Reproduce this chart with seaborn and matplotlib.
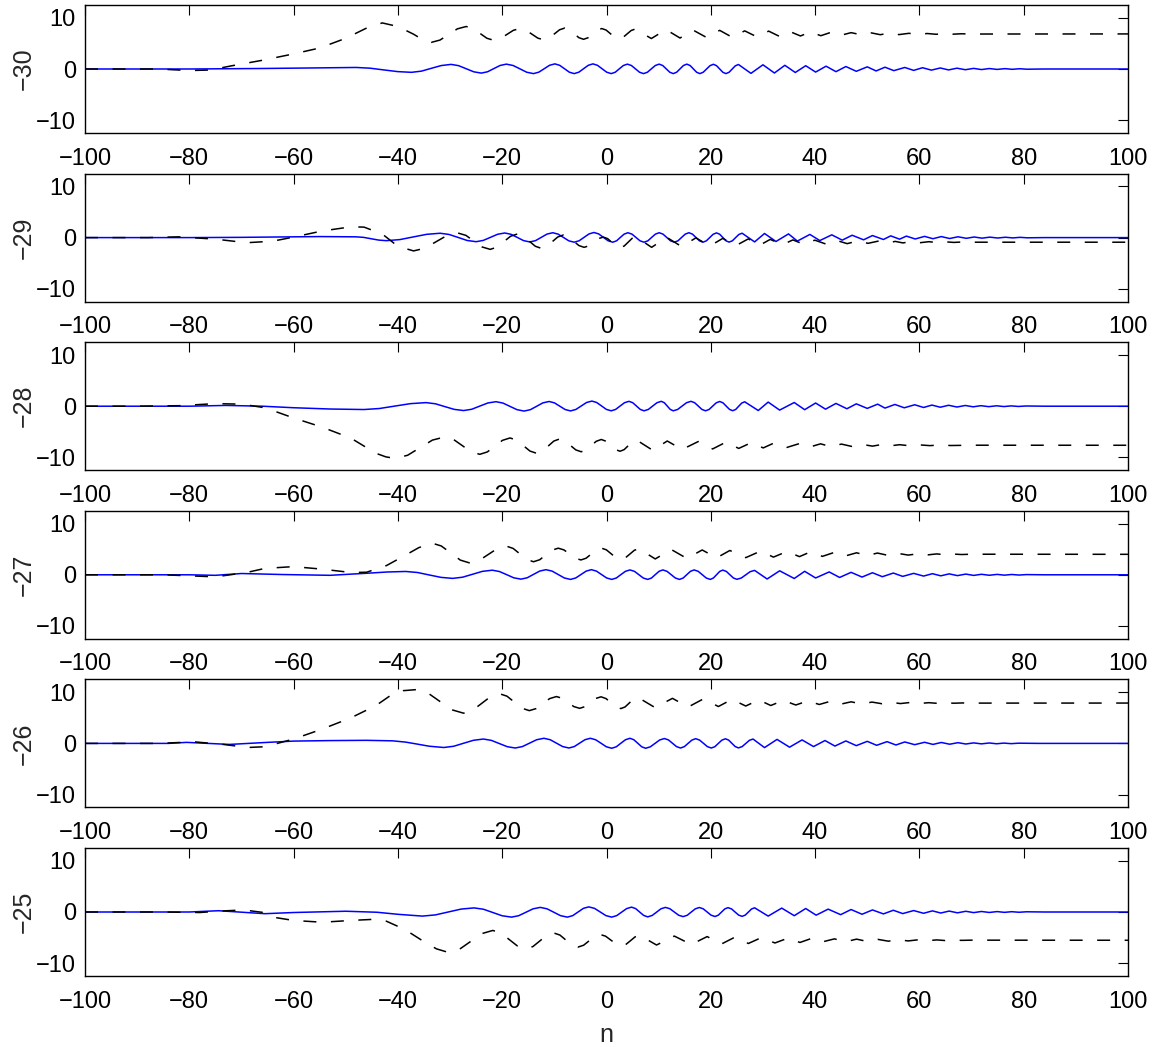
import matplotlib
matplotlib.use("Agg")
import matplotlib.pyplot as plt
from matplotlib import font_manager
import seaborn as sns

# ---- data: one row per parameter value; (n, value) samples of the solid (blue)
# ---- and dashed (black) traces
row_labels = [-30, -29, -28, -27, -26, -25]

solid_m30 = [
    (-100, 0), (-80, 0), (-66, 0.1), (-55, 0.22), (-48, 0.3), (-45.35, 0.16), (-42.7, -0.18),
    (-40.05, -0.51), (-37.4, -0.65), (-35.5, -0.42), (-33.6, 0.13), (-31.7, 0.67), (-29.8, 0.9),
    (-28.35, 0.65), (-26.9, 0.05), (-25.45, -0.55), (-24.0, -0.8), (-22.8, -0.54), (-21.6, 0.08),
    (-20.4, 0.69), (-19.2, 0.95), (-17.9, 0.68), (-16.6, 0.03), (-15.3, -0.63), (-14.0, -0.9),
    (-12.98, -0.62), (-11.95, 0.05), (-10.93, 0.72), (-9.9, 1.0), (-8.98, 0.72), (-8.05, 0.05),
    (-7.13, -0.62), (-6.2, -0.9), (-5.3, -0.62), (-4.4, 0.05), (-3.5, 0.72), (-2.6, 1.0),
    (-1.73, 0.72), (-0.85, 0.05), (0.03, -0.62), (0.9, -0.9), (1.68, -0.63), (2.45, 0.03),
    (3.23, 0.68), (4.0, 0.95), (4.78, 0.68), (5.55, 0.03), (6.33, -0.63), (7.1, -0.9),
    (7.85, -0.63), (8.6, 0.03), (9.35, 0.68), (10.1, 0.95), (10.78, 0.68), (11.45, 0.03),
    (12.13, -0.63), (12.8, -0.9), (13.45, -0.63), (14.1, 0.03), (14.75, 0.68), (15.4, 0.95),
    (16.03, 0.68), (16.65, 0.03), (17.28, -0.63), (17.9, -0.9), (18.55, -0.63), (19.2, 0.01),
    (19.85, 0.65), (20.5, 0.92), (21.1, 0.65), (21.7, 0.01), (22.3, -0.63), (22.9, -0.9),
    (23.5, -0.64), (24.1, -0.01), (24.7, 0.62), (25.3, 0.88), (27.7, -0.85), (30.0, 0.82),
    (32.2, -0.78), (34.2, 0.72), (36.2, -0.68), (38.2, 0.64), (40.1, -0.6), (42.1, 0.55),
    (44.0, -0.52), (45.9, 0.48), (47.9, -0.45), (50.0, 0.42), (51.7, -0.38), (53.4, 0.35),
    (55.1, -0.32), (57.2, 0.3), (58.9, -0.27), (60.6, 0.25), (62.3, -0.22), (64.0, 0.2),
    (65.6, -0.18), (67.2, 0.16), (68.8, -0.14), (70.4, 0.12), (71.9, -0.11), (73.4, 0.09),
    (74.9, -0.08), (76.4, 0.07), (77.8, -0.06), (79.2, 0.05), (80.6, -0.04), (84, 0), (100, 0),
]
dashed_m30 = [
    (-100, 0), (-86, 0), (-80, -0.3), (-76, -0.2), (-72, 0.6), (-66, 1.7), (-60, 2.95),
    (-55, 4.1), (-50, 6.0), (-46, 8.0), (-43, 9.0), (-40, 8.3), (-37, 6.8), (-35.3, 5.75),
    (-33.6, 5.2), (-31.93, 5.65), (-30.25, 6.75), (-28.58, 7.85), (-26.9, 8.3), (-25.58, 7.9),
    (-24.25, 6.95), (-22.93, 6.0), (-21.6, 5.6), (-20.35, 5.94), (-19.1, 6.75), (-17.85, 7.56),
    (-16.6, 7.9), (-15.45, 7.58), (-14.3, 6.8), (-13.15, 6.02), (-12.0, 5.7), (-11.0, 6.04),
    (-10.0, 6.85), (-9.0, 7.66), (-8.0, 8.0), (-7.1, 7.68), (-6.2, 6.9), (-5.3, 6.12),
    (-4.4, 5.8), (-3.53, 6.11), (-2.65, 6.85), (-1.78, 7.59), (-0.9, 7.9), (-0.08, 7.61),
    (0.75, 6.9), (1.58, 6.19), (2.4, 5.9), (3.18, 6.18), (3.95, 6.85), (4.73, 7.52), (5.5, 7.8),
    (8.6, 5.95), (11.4, 7.7), (14.1, 6.05), (16.6, 7.6), (19.2, 6.15), (21.7, 7.55), (24.1, 6.2),
    (26.5, 7.45), (28.8, 6.3), (31.1, 7.4), (33.2, 6.35), (35.2, 7.3), (37.2, 6.45), (39.1, 7.25),
    (41.1, 6.5), (43.0, 7.15), (45.0, 6.6), (46.9, 7.1), (49.0, 6.65), (50.8, 7.05), (52.5, 6.7),
    (54.2, 7.0), (56.1, 6.72), (58.0, 6.97), (59.7, 6.75), (61.5, 6.93), (63.2, 6.78),
    (64.8, 6.9), (66.4, 6.8), (68, 6.88), (70, 6.83), (100, 6.85),
]

solid_m29 = [
    (-100, 0), (-80, 0), (-70, 0.05), (-55, 0.2), (-48, 0.15), (-46.55, 0.04), (-45.1, -0.23),
    (-43.65, -0.49), (-42.2, -0.6), (-39.63, -0.39), (-37.05, 0.13), (-34.48, 0.64), (-31.9, 0.85),
    (-30.18, 0.61), (-28.45, 0.03), (-26.73, -0.56), (-25.0, -0.8), (-23.63, -0.55), (-22.25, 0.05),
    (-20.88, 0.65), (-19.5, 0.9), (-18.3, 0.64), (-17.1, 0.03), (-15.9, -0.59), (-14.7, -0.85),
    (-13.6, -0.59), (-12.5, 0.05), (-11.4, 0.69), (-10.3, 0.95), (-9.28, 0.68), (-8.25, 0.03),
    (-7.23, -0.63), (-6.2, -0.9), (-5.25, -0.62), (-4.3, 0.05), (-3.35, 0.72), (-2.4, 1.0),
    (-1.5, 0.72), (-0.6, 0.05), (0.3, -0.62), (1.2, -0.9), (1.93, -0.63), (2.65, 0.03),
    (3.38, 0.68), (4.1, 0.95), (4.88, 0.68), (5.65, 0.03), (6.43, -0.63), (7.2, -0.9),
    (7.93, -0.63), (8.65, 0.03), (9.38, 0.68), (10.1, 0.95), (10.83, 0.68), (11.55, 0.03),
    (12.28, -0.63), (13.0, -0.9), (13.7, -0.63), (14.4, 0.03), (15.1, 0.68), (15.8, 0.95),
    (16.48, 0.68), (17.15, 0.03), (17.83, -0.63), (18.5, -0.9), (19.15, -0.63), (19.8, 0.01),
    (20.45, 0.65), (21.1, 0.92), (21.7, 0.66), (22.3, 0.02), (22.9, -0.62), (23.5, -0.88),
    (24.13, -0.63), (24.75, -0.01), (25.38, 0.61), (26.0, 0.86), (28.4, -0.84), (30.3, 0.8),
    (32.5, -0.76), (34.9, 0.72), (36.6, -0.68), (39.0, 0.62), (40.9, -0.58), (43.2, 0.54),
    (45.2, -0.5), (47.1, 0.46), (49.3, -0.43), (51.0, 0.4), (53.1, -0.37), (54.5, 0.34),
    (56.2, -0.31), (57.5, 0.29), (59.2, -0.27), (61.0, 0.24), (62.6, -0.22), (64.2, 0.2),
    (65.8, -0.18), (67.4, 0.16), (69.0, -0.14), (70.5, 0.12), (72.0, -0.11), (73.5, 0.09),
    (75.0, -0.08), (76.5, 0.07), (77.9, -0.06), (79.3, 0.05), (80.7, -0.04), (84, 0), (100, 0),
]
dashed_m29 = [
    (-100, 0), (-88, 0), (-82, 0.15), (-75, -0.3), (-69, -1.0), (-64, -0.7), (-60, 0.1),
    (-54.5, 1.3), (-49, 2.1), (-46.5, 2.05), (-43, 0.7), (-40, -1.7), (-37, -2.6),
    (-34.88, -2.09), (-32.75, -0.85), (-30.63, 0.39), (-28.5, 0.9), (-26.95, 0.43), (-25.4, -0.7),
    (-23.85, -1.83), (-22.3, -2.3), (-21.0, -1.86), (-19.7, -0.8), (-18.4, 0.26), (-17.1, 0.7),
    (-15.95, 0.29), (-14.8, -0.7), (-13.65, -1.69), (-12.5, -2.1), (-11.45, -1.72), (-10.4, -0.8),
    (-9.35, 0.12), (-8.3, 0.5), (-7.3, 0.15), (-6.3, -0.7), (-5.3, -1.55), (-4.3, -1.9),
    (-3.38, -1.61), (-2.45, -0.9), (-1.53, -0.19), (-0.6, 0.1), (0.21, -0.2), (1.03, -0.93),
    (1.84, -1.65), (2.65, -1.95), (3.4, -1.64), (4.15, -0.9), (4.9, -0.16), (5.65, 0.15),
    (8.65, -1.9), (11.55, 0.05), (14.4, -1.75), (17.15, -0.05), (19.8, -1.65), (22.3, -0.15),
    (24.75, -1.6), (27.2, -0.25), (29.35, -1.5), (31.4, -0.35), (33.7, -1.4), (35.75, -0.45),
    (37.8, -1.3), (39.95, -0.5), (42.05, -1.25), (44.2, -0.58), (46.15, -1.18), (48.2, -0.65),
    (50.15, -1.12), (52.05, -0.7), (53.8, -1.08), (55.35, -0.74), (56.85, -1.04), (58.35, -0.77),
    (60.1, -1.0), (61.8, -0.8), (63.4, -0.97), (65, -0.83), (66.6, -0.94), (68.2, -0.86),
    (70, -0.9), (100, -0.9),
]

solid_m28 = [
    (-100, 0), (-80, 0), (-73, 0.15), (-66, 0), (-60, -0.3), (-53, -0.55), (-46.5, -0.65),
    (-43.53, -0.45), (-40.55, 0.03), (-37.58, 0.5), (-34.6, 0.7), (-32.8, 0.47), (-31.0, -0.08),
    (-29.2, -0.62), (-27.4, -0.85), (-25.85, -0.6), (-24.3, 0.02), (-22.75, 0.63), (-21.2, 0.88),
    (-19.85, 0.61), (-18.5, -0.04), (-17.15, -0.68), (-15.8, -0.95), (-14.6, -0.68), (-13.4, -0.02),
    (-12.2, 0.65), (-11.0, 0.92), (-9.98, 0.65), (-8.95, 0), (-7.93, -0.65), (-6.9, -0.92),
    (-5.88, -0.64), (-4.85, 0.04), (-3.83, 0.72), (-2.8, 1.0), (-1.88, 0.72), (-0.95, 0.05),
    (-0.03, -0.62), (0.9, -0.9), (1.75, -0.63), (2.6, 0.03), (3.45, 0.68), (4.3, 0.95),
    (5.03, 0.68), (5.75, 0.03), (6.48, -0.63), (7.2, -0.9), (8.03, -0.63), (8.85, 0.03),
    (9.68, 0.68), (10.5, 0.95), (11.08, 0.68), (11.65, 0.03), (12.23, -0.63), (12.8, -0.9),
    (13.65, -0.63), (14.5, 0.03), (15.35, 0.68), (16.2, 0.95), (16.9, 0.68), (17.6, 0.03),
    (18.3, -0.63), (19.0, -0.9), (19.68, -0.63), (20.35, 0.01), (21.03, 0.65), (21.7, 0.92),
    (22.33, 0.66), (22.95, 0.02), (23.58, -0.62), (24.2, -0.88), (24.78, -0.63), (25.35, -0.01),
    (25.93, 0.61), (26.5, 0.86), (29.1, -0.84), (31.0, 0.8), (33.2, -0.76), (36.0, 0.72),
    (38.0, -0.68), (40.1, 0.62), (42.0, -0.58), (44.0, 0.54), (46.1, -0.5), (47.9, 0.46),
    (50.0, -0.43), (52.0, 0.4), (53.4, -0.37), (55.3, 0.34), (57.1, -0.31), (59.1, 0.28),
    (60.8, -0.25), (62.4, 0.22), (64.0, -0.2), (65.6, 0.18), (67.2, -0.16), (68.8, 0.14),
    (70.3, -0.12), (71.8, 0.1), (73.3, -0.09), (74.8, 0.08), (76.2, -0.07), (77.6, 0.06),
    (79.0, -0.05), (80.4, 0.04), (84, 0), (100, 0),
]
dashed_m28 = [
    (-100, 0), (-90, 0), (-82, 0.1), (-75, 0.5), (-70, 0.4), (-65.5, -0.3), (-60, -2.3),
    (-54.5, -4.1), (-49, -6.25), (-44.2, -9.2), (-42.3, -9.9), (-40.5, -10.2), (-38.13, -9.58),
    (-35.75, -8.1), (-33.38, -6.62), (-31.0, -6.0), (-29.33, -6.5), (-27.65, -7.7), (-25.98, -8.9),
    (-24.3, -9.4), (-22.85, -8.93), (-21.4, -7.8), (-19.95, -6.67), (-18.5, -6.2), (-17.23, -6.64),
    (-15.95, -7.7), (-14.68, -8.76), (-13.4, -9.2), (-12.3, -8.79), (-11.2, -7.8), (-10.1, -6.81),
    (-9.0, -6.4), (-7.96, -6.77), (-6.93, -7.65), (-5.89, -8.53), (-4.85, -8.9), (-3.89, -8.55),
    (-2.93, -7.7), (-1.96, -6.85), (-1.0, -6.5), (-0.1, -6.84), (0.8, -7.65), (1.7, -8.46),
    (2.6, -8.8), (3.39, -8.48), (4.18, -7.7), (4.96, -6.92), (5.75, -6.6), (8.85, -8.6),
    (11.65, -6.8), (14.5, -8.45), (17.6, -6.9), (20.35, -8.35), (22.95, -7.0), (25.35, -8.25),
    (27.8, -7.1), (30.05, -8.15), (32.1, -7.2), (34.6, -8.05), (37.0, -7.3), (39.05, -7.95),
    (41.05, -7.35), (43.0, -7.9), (45.05, -7.4), (47.0, -7.85), (48.95, -7.45), (51.0, -7.8),
    (52.7, -7.5), (54.35, -7.75), (56.2, -7.52), (58.1, -7.72), (59.95, -7.55), (62, -7.7),
    (64, -7.58), (66, -7.68), (70, -7.62), (100, -7.63),
]

solid_m27 = [
    (-100, 0), (-80, 0), (-75, -0.1), (-70, 0.25), (-62, 0.05), (-53, -0.1), (-46, 0.3),
    (-42, 0.55), (-38.5, 0.65), (-36.25, 0.45), (-34.0, -0.03), (-31.75, -0.5), (-29.5, -0.7),
    (-27.6, -0.47), (-25.7, 0.1), (-23.8, 0.67), (-21.9, 0.9), (-20.53, 0.64), (-19.15, 0.03),
    (-17.78, -0.59), (-16.4, -0.85), (-15.2, -0.58), (-14.0, 0.08), (-12.8, 0.73), (-11.6, 1.0),
    (-10.43, 0.72), (-9.25, 0.05), (-8.08, -0.62), (-6.9, -0.9), (-5.9, -0.62), (-4.9, 0.05),
    (-3.9, 0.72), (-2.9, 1.0), (-1.93, 0.72), (-0.95, 0.05), (0.03, -0.62), (1.0, -0.9),
    (1.88, -0.63), (2.75, 0.03), (3.63, 0.68), (4.5, 0.95), (5.35, 0.68), (6.2, 0.03),
    (7.05, -0.63), (7.9, -0.9), (8.63, -0.63), (9.35, 0.03), (10.08, 0.68), (10.8, 0.95),
    (11.6, 0.68), (12.4, 0.03), (13.2, -0.63), (14.0, -0.9), (14.7, -0.63), (15.4, 0.03),
    (16.1, 0.68), (16.8, 0.95), (17.58, 0.68), (18.35, 0.03), (19.13, -0.63), (19.9, -0.9),
    (20.5, -0.63), (21.1, 0.01), (21.7, 0.65), (22.3, 0.92), (22.98, 0.66), (23.65, 0.02),
    (24.33, -0.62), (25.0, -0.88), (25.85, -0.63), (26.7, -0.01), (27.55, 0.61), (28.4, 0.86),
    (30.8, -0.82), (33.2, 0.78), (36.0, -0.72), (38.0, 0.68), (40.1, -0.62), (42.7, 0.56),
    (44.7, -0.52), (46.9, 0.48), (49.0, -0.44), (51.0, 0.4), (52.9, -0.37), (55.0, 0.34),
    (56.8, -0.31), (58.9, 0.28), (60.8, -0.25), (62.5, 0.22), (64.1, -0.2), (65.7, 0.18),
    (67.3, -0.16), (68.9, 0.14), (70.4, -0.12), (71.9, 0.1), (73.4, -0.09), (74.9, 0.08),
    (76.3, -0.07), (77.7, 0.06), (79.1, -0.05), (80.5, 0.04), (84, 0), (100, 0),
]
dashed_m27 = [
    (-100, 0), (-85, 0), (-75, -0.4), (-69, 0.45), (-65.5, 1.25), (-60, 1.6), (-54.5, 1.1),
    (-49, 0.45), (-46, 0.5), (-42.2, 1.8), (-38.7, 3.75), (-36, 5.3), (-33.5, 6.2),
    (-31.68, 5.63), (-29.85, 4.25), (-28.03, 2.87), (-26.2, 2.3), (-24.45, 2.78), (-22.7, 3.95),
    (-20.95, 5.12), (-19.2, 5.6), (-17.9, 5.15), (-16.6, 4.08), (-15.3, 3.0), (-14.0, 2.55),
    (-12.81, 2.94), (-11.63, 3.88), (-10.44, 4.81), (-9.25, 5.2), (-8.16, 4.86), (-7.08, 4.05),
    (-5.99, 3.24), (-4.9, 2.9), (-3.91, 3.24), (-2.93, 4.05), (-1.94, 4.86), (-0.95, 5.2),
    (-0.03, 4.88), (0.9, 4.1), (1.83, 3.32), (2.75, 3.0), (3.61, 3.31), (4.48, 4.05),
    (5.34, 4.79), (6.2, 5.1), (9.35, 3.1), (12.4, 4.95), (15.4, 3.2), (18.35, 4.85), (21.1, 3.3),
    (23.65, 4.75), (26.7, 3.35), (29.6, 4.65), (32.0, 3.45), (34.6, 4.55), (37.0, 3.55),
    (39.05, 4.45), (41.4, 3.6), (43.7, 4.38), (45.8, 3.68), (47.95, 4.3), (50.0, 3.75),
    (51.95, 4.25), (53.95, 3.8), (55.9, 4.18), (57.85, 3.85), (59.85, 4.12), (61.7, 3.9),
    (63.3, 4.08), (64.9, 3.93), (66.5, 4.05), (68.1, 3.96), (70, 4.02), (100, 4.0),
]

solid_m26 = [
    (-100, 0), (-84, 0), (-80.5, 0.2), (-72.3, -0.2), (-65, 0.2), (-60, 0.45), (-53, 0.55),
    (-46, 0.6), (-41, 0.5), (-38.5, 0.25), (-36.5, -0.1), (-34, -0.55), (-31.2, -0.8),
    (-29.3, -0.56), (-27.4, 0.03), (-25.5, 0.61), (-23.6, 0.85), (-22.08, 0.59), (-20.55, -0.03),
    (-19.03, -0.64), (-17.5, -0.9), (-16.13, -0.62), (-14.75, 0.05), (-13.38, 0.72), (-12.0, 1.0),
    (-10.8, 0.72), (-9.6, 0.05), (-8.4, -0.62), (-7.2, -0.9), (-6.18, -0.62), (-5.15, 0.05),
    (-4.13, 0.72), (-3.1, 1.0), (-2.08, 0.71), (-1.05, 0.03), (-0.03, -0.66), (1.0, -0.95),
    (1.88, -0.66), (2.75, 0.03), (3.63, 0.71), (4.5, 1.0), (5.25, 0.71), (6.0, 0.03),
    (6.75, -0.66), (7.5, -0.95), (8.4, -0.67), (9.3, 0), (10.2, 0.67), (11.1, 0.95),
    (11.88, 0.68), (12.65, 0.03), (13.43, -0.63), (14.2, -0.9), (14.93, -0.63), (15.65, 0.01),
    (16.38, 0.65), (17.1, 0.92), (17.85, 0.65), (18.6, 0.01), (19.35, -0.63), (20.1, -0.9),
    (20.78, -0.64), (21.45, 0), (22.13, 0.64), (22.8, 0.9), (23.43, 0.64), (24.05, 0.01),
    (24.68, -0.62), (25.3, -0.88), (26.0, -0.63), (26.7, -0.02), (27.4, 0.6), (28.1, 0.85),
    (30.3, -0.82), (32.7, 0.78), (35.1, -0.74), (37.5, 0.68), (39.7, -0.62), (41.9, 0.56),
    (43.8, -0.52), (45.9, 0.48), (47.9, -0.44), (50.0, 0.4), (51.8, -0.37), (53.8, 0.34),
    (55.5, -0.31), (57.2, 0.28), (59.1, -0.25), (61.0, 0.22), (62.6, -0.2), (64.2, 0.18),
    (65.8, -0.16), (67.4, 0.14), (68.9, -0.12), (70.4, 0.1), (71.9, -0.09), (73.4, 0.08),
    (74.8, -0.07), (76.2, 0.06), (77.6, -0.05), (79.0, 0.04), (83, 0), (100, 0),
]
dashed_m26 = [
    (-100, 0), (-86, 0), (-79, 0.3), (-73.5, -0.2), (-68.8, -0.8), (-65.5, -0.65), (-60, 0.85),
    (-54.5, 2.8), (-49, 5.0), (-44.2, 7.4), (-41.5, 9.3), (-39, 10.3), (-36.5, 10.5),
    (-34.23, 9.83), (-31.95, 8.2), (-29.68, 6.57), (-27.4, 5.9), (-25.68, 6.46), (-23.95, 7.8),
    (-22.23, 9.14), (-20.5, 9.7), (-19.08, 9.22), (-17.65, 8.05), (-16.23, 6.88), (-14.8, 6.4),
    (-13.5, 6.8), (-12.2, 7.78), (-10.9, 8.75), (-9.6, 9.15), (-8.49, 8.81), (-7.38, 8.0),
    (-6.26, 7.19), (-5.15, 6.85), (-4.13, 7.18), (-3.1, 7.98), (-2.08, 8.77), (-1.05, 9.1),
    (-0.1, 8.76), (0.85, 7.95), (1.8, 7.14), (2.75, 6.8), (3.56, 7.12), (4.38, 7.9), (5.19, 8.68),
    (6.0, 9.0), (9.3, 7.0), (12.65, 8.8), (15.65, 7.1), (18.6, 8.7), (21.45, 7.2), (24.05, 8.6),
    (26.7, 7.3), (29.2, 8.5), (31.5, 7.4), (33.9, 8.4), (36.3, 7.5), (38.6, 8.3), (40.8, 7.6),
    (42.85, 8.2), (44.85, 7.65), (46.9, 8.12), (48.95, 7.7), (50.9, 8.07), (52.8, 7.75),
    (54.65, 8.02), (56.35, 7.78), (58.15, 7.98), (60.05, 7.8), (61.8, 7.95), (63.4, 7.83),
    (65, 7.92), (66.6, 7.85), (68.2, 7.9), (70, 7.87), (100, 7.88),
]

solid_m25 = [
    (-100, 0), (-80, 0), (-74.4, 0.25), (-65.5, -0.33), (-60, -0.1), (-50, 0.15), (-44, -0.05),
    (-40, -0.45), (-35.3, -0.8), (-32.83, -0.57), (-30.35, 0), (-27.88, 0.57), (-25.4, 0.8),
    (-23.6, 0.54), (-21.8, -0.1), (-20.0, -0.74), (-18.2, -1.0), (-16.83, -0.72), (-15.45, -0.05),
    (-14.08, 0.62), (-12.7, 0.9), (-11.4, 0.62), (-10.1, -0.05), (-8.8, -0.72), (-7.5, -1.0),
    (-6.48, -0.71), (-5.45, 0), (-4.43, 0.71), (-3.4, 1.0), (-2.3, 0.71), (-1.2, 0),
    (-0.1, -0.71), (1.0, -1.0), (1.95, -0.71), (2.9, -0.03), (3.85, 0.66), (4.8, 0.95),
    (5.58, 0.67), (6.35, 0), (7.13, -0.67), (7.9, -0.95), (8.75, -0.68), (9.6, -0.03),
    (10.45, 0.63), (11.3, 0.9), (12.15, 0.64), (13.0, 0), (13.85, -0.64), (14.7, -0.9),
    (15.48, -0.64), (16.25, -0.01), (17.03, 0.62), (17.8, 0.88), (18.55, 0.62), (19.3, 0),
    (20.05, -0.62), (20.8, -0.88), (21.43, -0.63), (22.05, -0.02), (22.68, 0.6), (23.3, 0.85),
    (23.98, 0.6), (24.65, 0), (25.33, -0.6), (26.0, -0.85), (26.6, -0.61), (27.2, -0.02),
    (27.8, 0.58), (28.4, 0.82), (31.0, -0.8), (33.6, 0.76), (36.0, -0.72), (38.2, 0.68),
    (40.2, -0.62), (42.5, 0.56), (44.9, -0.52), (46.9, 0.48), (49.0, -0.44), (51.0, 0.4),
    (53.1, -0.37), (55.0, 0.34), (56.8, -0.31), (58.9, 0.28), (60.8, -0.25), (62.5, 0.22),
    (64.1, -0.2), (65.7, 0.18), (67.3, -0.16), (68.9, 0.14), (70.4, -0.12), (71.9, 0.1),
    (73.4, -0.09), (74.9, 0.08), (76.3, -0.07), (77.7, 0.06), (79.1, -0.05), (80.5, 0.04),
    (84, 0), (100, 0),
]
dashed_m25 = [
    (-100, 0), (-85, 0), (-78, -0.1), (-73.7, 0.2), (-69.6, 0.4), (-65.5, -0.13), (-63.4, -1.1),
    (-60, -1.65), (-54.5, -2.0), (-49, -1.65), (-45, -1.45), (-42.2, -1.8), (-38.7, -3.4),
    (-34.6, -6.05), (-32.6, -7.2), (-30.3, -7.9), (-28.18, -7.27), (-26.05, -5.75),
    (-23.93, -4.23), (-21.8, -3.6), (-20.21, -4.13), (-18.63, -5.4), (-17.04, -6.67),
    (-15.45, -7.2), (-14.11, -6.75), (-12.78, -5.65), (-11.44, -4.55), (-10.1, -4.1),
    (-8.94, -4.5), (-7.78, -5.48), (-6.61, -6.45), (-5.45, -6.85), (-4.39, -6.49), (-3.33, -5.63),
    (-2.26, -4.76), (-1.2, -4.4), (-0.18, -4.72), (0.85, -5.5), (1.88, -6.28), (2.9, -6.6),
    (3.76, -6.3), (4.63, -5.58), (5.49, -4.85), (6.35, -4.55), (9.6, -6.45), (13.0, -4.7),
    (16.25, -6.35), (19.3, -4.8), (22.05, -6.25), (24.65, -4.9), (27.2, -6.15), (29.7, -5.0),
    (32.3, -6.05), (34.8, -5.1), (37.1, -5.95), (39.2, -5.2), (41.35, -5.85), (43.7, -5.25),
    (45.9, -5.8), (47.95, -5.3), (50.0, -5.75), (52.05, -5.35), (54.05, -5.7), (55.9, -5.4),
    (57.85, -5.65), (59.85, -5.42), (61.7, -5.6), (63.3, -5.45), (64.9, -5.57), (66.5, -5.48),
    (68.1, -5.54), (70, -5.5), (100, -5.52),
]

x_ticks = [-100, -80, -60, -40, -20, 0, 20, 40, 60, 80, 100]
y_ticks = [-10, 0, 10]

rows = [
    (row_labels[0], solid_m30, dashed_m30),
    (row_labels[1], solid_m29, dashed_m29),
    (row_labels[2], solid_m28, dashed_m28),
    (row_labels[3], solid_m27, dashed_m27),
    (row_labels[4], solid_m26, dashed_m26),
    (row_labels[5], solid_m25, dashed_m25),
]

# ---- style ----
sns.set_style("white")
installed = {f.name for f in font_manager.fontManager.ttflist}
if "Liberation Sans Narrow" in installed:
    tick_family, tick_fs = ["Liberation Sans Narrow", "DejaVu Sans"], 19
else:
    tick_family, tick_fs = ["Liberation Sans", "DejaVu Sans"], 17
plt.rcParams["font.family"] = ["Liberation Sans", "DejaVu Sans"]
plt.rcParams["axes.unicode_minus"] = True
label_fs = 18

W, H = 1158, 1047
fig = plt.figure(figsize=(W / 100, H / 100), dpi=100)

ax_left, ax_width = 85, 1043
ax_top0, ax_height, ax_step = 5, 128, 168.6


def unzip(pairs):
    return [p[0] for p in pairs], [p[1] for p in pairs]


for k, (lab, solid, dashed) in enumerate(rows):
    top = ax_top0 + k * ax_step
    ax = fig.add_axes([ax_left / W, (H - top - ax_height) / H, ax_width / W, ax_height / H])

    sn, sv = unzip(solid)
    dn, dv = unzip(dashed)
    sns.lineplot(x=sn, y=sv, ax=ax, color="#0000ff", lw=1.1,
                 estimator=None, sort=False, errorbar=None)
    sns.lineplot(x=dn, y=dv, ax=ax, color="black", lw=1.1,
                 estimator=None, sort=False, errorbar=None)
    ax.get_lines()[-1].set_dashes([8.5, 9.5])

    ax.set_xlim(-100, 100)
    ax.set_ylim(-12.5, 12.5)
    ax.set_xticks(x_ticks)
    ax.set_yticks(y_ticks)
    ax.tick_params(direction="in", length=7.5, width=0.8, top=True, right=True, colors="black")
    ax.tick_params(axis="x", pad=10.5)
    ax.tick_params(axis="y", pad=6.5)
    for t in ax.get_xticklabels() + ax.get_yticklabels():
        t.set_fontfamily(tick_family)
        t.set_fontsize(tick_fs)
    for sp in ax.spines.values():
        sp.set_visible(True)
        sp.set_color("black")
        sp.set_linewidth(1.0)
    ax.grid(False)

    ax.set_ylabel(str(lab).replace("-", "\u2212"), fontsize=label_fs)
    ax.yaxis.set_label_coords(-0.0475, 0.5)
    if k == len(rows) - 1:
        ax.set_xlabel("n", fontsize=label_fs)
        ax.xaxis.set_label_coords(0.5, -0.37)
    else:
        ax.set_xlabel("")

fig.savefig("out.png", dpi=100)
